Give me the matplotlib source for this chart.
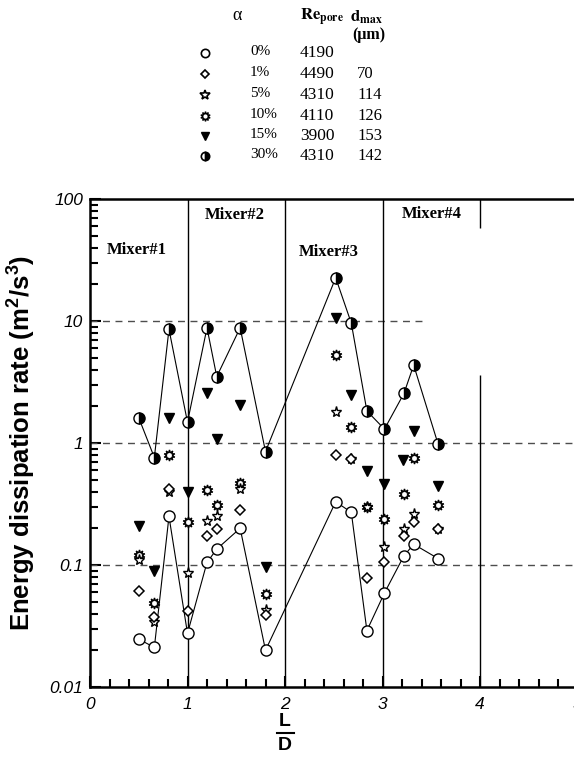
import matplotlib
matplotlib.use("Agg")
import matplotlib.pyplot as plt
from matplotlib.ticker import FixedLocator, NullFormatter
from matplotlib.lines import Line2D

plt.rcParams["mathtext.fontset"] = "custom"
plt.rcParams["mathtext.rm"] = "Liberation Sans"
plt.rcParams["mathtext.bf"] = "Liberation Sans:bold"

# axial positions (L/D) of the measuring stations
ld = [0.50, 0.66, 0.81, 1.00, 1.20, 1.30, 1.54, 1.80,
      2.52, 2.68, 2.84, 3.02, 3.22, 3.32, 3.57]

# energy dissipation rate per void fraction
eps_0 = [0.0247, 0.0211, 0.25, 0.0275, 0.105, 0.135, 0.20, 0.020,
         0.33, 0.27, 0.029, 0.059, 0.119, 0.148, 0.113]
eps_1 = [0.0615, 0.0377, 0.42, 0.042, 0.174, 0.197, 0.28, 0.039,
         0.80, 0.74, 0.078, 0.105, 0.173, 0.226, 0.196]
eps_5 = [0.11, 0.034, 0.40, 0.0865, 0.23, 0.25, 0.42, 0.043,
         1.81, 0.74, 0.30, 0.14, 0.196, 0.26, 0.196]
eps_10 = [0.12, 0.049, 0.80, 0.226, 0.41, 0.31, 0.47, 0.058,
          5.3, 1.34, 0.30, 0.24, 0.38, 0.75, 0.31]
ld_15 = [0.50, 0.66, 0.81, 1.00, 1.20, 1.30, 1.54, 1.80,
         2.52, 2.68, 2.84, 3.02, 3.21, 3.32, 3.57]
eps_15 = [0.21, 0.090, 1.59, 0.40, 2.55, 1.08, 2.05, 0.097,
          10.5, 2.47, 0.59, 0.46, 0.73, 1.25, 0.44]
eps_30 = [1.61, 0.76, 8.55, 1.48, 8.8, 3.5, 8.8, 0.85,
          22.6, 9.6, 1.83, 1.30, 2.55, 4.35, 0.98]

alpha_labels = ["0%", "1%", "5%", "10%", "15%", "30%"]
re_pore = ["4190", "4490", "4310", "4110", "3900", "4310"]
d_max = ["", "70", "114", "126", "153", "142"]

mixer_names = ["Mixer#1", "Mixer#2", "Mixer#3", "Mixer#4"]
mixer_pos = [(0.17, 38), (1.18, 74), (2.14, 37), (3.2, 75)]

W, H = 574, 758
fig = plt.figure(figsize=(W / 100, H / 100), dpi=100)

# axes: x from 0 (px 90) to 5 (px 577.5), y from 0.01 (px 687) to 100 (px 199)
ax = fig.add_axes([90 / W, (H - 687) / H, 487.5 / W, 488 / H])
ax.set_xlim(0, 5)
ax.set_yscale("log")
ax.set_ylim(0.01, 100)

for s in ["left", "bottom", "top"]:
    ax.spines[s].set_linewidth(1.8)
ax.spines["right"].set_visible(False)

tick_font = dict(family="Liberation Sans", style="italic", size=12.5)
ax.set_xticks([0, 1, 2, 3, 4, 5])
ax.set_xticklabels(["0", "1", "2", "3", "4", "5"], **tick_font)
ax.xaxis.set_minor_locator(FixedLocator([i * 0.2 for i in range(26)]))
ax.set_yticks([0.01, 0.1, 1, 10, 100])
ax.set_yticklabels(["0.01", "0.1", "1", "10", "100"], **tick_font)
ax.yaxis.set_minor_formatter(NullFormatter())
ax.tick_params(which="both", direction="in", width=1.5, top=False, right=False)
ax.tick_params(which="major", length=8)
ax.tick_params(which="minor", length=6)
ax.tick_params(axis="x", pad=7)
ax.tick_params(axis="y", pad=5)

# reference grid lines
dash = (0, (5, 4))
ax.hlines(10, 0, 3.44, colors="0.3", linestyles=dash, lw=1)
ax.hlines([1, 0.1], 0, 5, colors="0.3", linestyles=dash, lw=1)
ax.axvline(1, color="black", lw=1)
ax.axvline(2, color="black", lw=1)
ax.axvline(3, color="black", lw=1)
ax.vlines(4, 57.8, 100, colors="black", lw=1)
ax.vlines(4, 0.01, 3.6, colors="black", lw=1)

# connecting lines
ax.plot(ld, eps_0, color="black", lw=0.8, zorder=3)
ax.plot(ld, eps_30, color="black", lw=0.8, zorder=3)

ms = 8
ax.plot(ld_15, eps_15, "v", ms=7, mfc="black", mec="black", zorder=4)
ax.plot(ld, eps_10, marker=(10, 1, 0), ls="none", ms=8, mfc="white", mec="black", mew=1, zorder=4)
ax.plot(ld, eps_5, "*", ms=8, mfc="white", mec="black", mew=1, zorder=4)
ax.plot(ld, eps_1, "D", ms=5.5, mfc="white", mec="black", mew=1.1, zorder=4)
ax.plot(ld, eps_0, "o", ms=ms, mfc="white", mec="black", mew=1, zorder=5)
ax.plot(ld, eps_30, "o", ms=ms, fillstyle="right", mfc="black", mfcalt="white",
        mec="black", mew=1, zorder=5)

for name, (mx, my) in zip(mixer_names, mixer_pos):
    ax.text(mx, my, name, family="Liberation Serif", weight="bold", size=12,
            ha="left", va="center")

ax.set_ylabel(r"Energy dissipation rate (m$^{\mathbf{2}}$/s$^{\mathbf{3}}$)",
              family="Liberation Sans", weight="bold", size=18.5, labelpad=9)

# L/D fraction label
fig.text(285 / W, 1 - 721 / H, "L", family="Liberation Sans", weight="bold",
         size=14, ha="center", va="center")
fig.text(285 / W, 1 - 746 / H, "D", family="Liberation Sans", weight="bold",
         size=14, ha="center", va="center")
fig.add_artist(Line2D([277 / W, 294 / W], [1 - 733 / H, 1 - 733 / H],
                      color="black", lw=1.5))

# header table
serif = "Liberation Serif"
fig.text(237 / W, 1 - 15 / H, "α", family=serif, size=13, ha="center", va="center")
fig.text(300 / W, 1 - 17 / H, r"$\mathbf{Re}_{\mathbf{pore}}$", size=12,
         math_fontfamily="stix", ha="left", va="center")
fig.text(350 / W, 1 - 17 / H, r"$\mathbf{d}_{\mathbf{max}}$", size=12,
         math_fontfamily="stix", ha="left", va="center")
fig.text(352 / W, 1 - 35 / H, "(μm)", family=serif, weight="bold", size=11.5,
         ha="left", va="center")

row_y = [53, 74, 95, 116, 136, 156]
leg_styles = [
    dict(marker="o", ms=6, mfc="white", mec="black", mew=1.2),
    dict(marker="D", ms=4.5, mfc="white", mec="black", mew=1.2),
    dict(marker="*", ms=7, mfc="white", mec="black", mew=1.2),
    dict(marker=(10, 1, 0), ms=7, mfc="white", mec="black", mew=1),
    dict(marker="v", ms=6, mfc="black", mec="black"),
    dict(marker="o", ms=6, fillstyle="right", mfc="black", mfcalt="white", mec="black", mew=1.2),
]
for y, st, a, re, d in zip(row_y, leg_styles, alpha_labels, re_pore, d_max):
    fy = 1 - y / H
    fig.add_artist(Line2D([205 / W], [fy], ls="none", **st))
    fig.text(250 / W, fy + 0.002, a, family=serif, size=11, ha="left", va="center")
    fig.text(300 / W, fy, re, family=serif, size=12.5, ha="left", va="center")
    fig.text(357 / W, fy, d, family=serif, size=12, ha="left", va="center")

fig.savefig("out.png", dpi=100)
